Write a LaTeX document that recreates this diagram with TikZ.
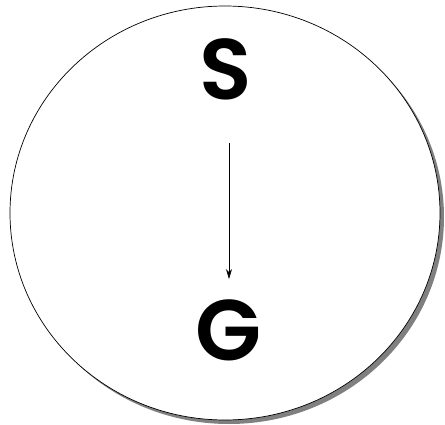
\documentclass[tikz,border=0pt]{standalone}
\usepackage{fontspec}
\newfontfamily\letterfont{Poppins SemiBold}
\usetikzlibrary{arrows.meta}
\begin{document}
\begin{tikzpicture}[x=1pt,y=-1pt,
  letter/.style={font=\fontsize{86}{86}\letterfont, inner sep=0pt},
  conn/.style={-{Stealth[length=10pt,width=6pt]}, line width=0.6pt}]
\useasboundingbox (0,0) rectangle (445,425);
\fill[gray] (229,217) ellipse [x radius=215, y radius=207];
\draw[fill=white, line width=0.7pt] (225,213) ellipse [x radius=215, y radius=207];
\node[letter] (S) at (226,69) {S};
\node[letter] (G) at (229,330) {G};
\coordinate (a) at (229,143);
\coordinate (b) at (229,279);
\draw[conn] (a) -- (b);
\end{tikzpicture}
\end{document}
